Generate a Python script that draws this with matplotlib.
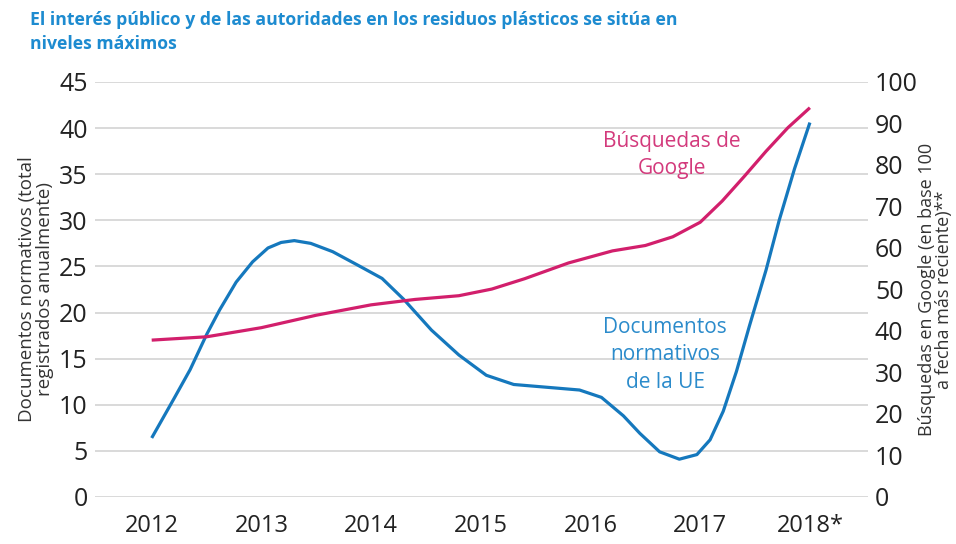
import matplotlib
matplotlib.use("Agg")
import matplotlib.pyplot as plt

plt.rcParams['font.family'] = ['Open Sans', 'DejaVu Sans']

# Documentos normativos de la UE (eje izquierdo)
doc_x = [2012.0, 2012.2, 2012.35, 2012.5, 2012.62, 2012.77, 2012.92, 2013.06, 2013.18, 2013.3,
         2013.45, 2013.65, 2013.9, 2014.1, 2014.3, 2014.55, 2014.8, 2015.05, 2015.3, 2015.6,
         2015.9, 2016.1, 2016.3, 2016.45, 2016.63, 2016.81, 2016.97, 2017.09, 2017.21, 2017.33,
         2017.45, 2017.6, 2017.72, 2017.86, 2018.0]
doc_y = [6.4, 10.6, 13.8, 17.6, 20.3, 23.3, 25.5, 27.0, 27.6, 27.8,
         27.5, 26.6, 25.0, 23.7, 21.4, 18.1, 15.4, 13.2, 12.2, 11.9,
         11.6, 10.8, 8.8, 6.9, 4.9, 4.1, 4.6, 6.2, 9.3, 13.6,
         18.6, 24.6, 30.0, 35.6, 40.6]

# Busquedas de Google (eje derecho, base 100)
goo_x = [2012.0, 2012.5, 2013.0, 2013.5, 2014.0, 2014.4, 2014.8, 2015.1, 2015.4, 2015.8,
         2016.2, 2016.5, 2016.75, 2017.0, 2017.2, 2017.4, 2017.6, 2017.8, 2018.0]
goo_y = [37.8, 38.6, 40.8, 43.8, 46.3, 47.6, 48.5, 50.1, 52.6, 56.4,
         59.3, 60.6, 62.7, 66.2, 71.3, 77.2, 83.3, 89.0, 93.8]

years = [2012, 2013, 2014, 2015, 2016, 2017, 2018]
year_labels = ['2012', '2013', '2014', '2015', '2016', '2017', '2018*']
left_ticks = list(range(0, 46, 5))
right_ticks = list(range(0, 101, 10))

blue = '#1578bd'
pink = '#d21f6c'

fig = plt.figure(figsize=(9.56, 5.44), dpi=100)
ax = fig.add_axes([0.099, 0.0864, 0.809, 0.7629])
ax2 = ax.twinx()

ax.set_xlim(2011.48, 2018.53)
ax.set_ylim(0, 45)
ax2.set_ylim(0, 100)

ax.set_yticks(left_ticks)
ax2.set_yticks(right_ticks)
ax.set_xticks(years)
ax.set_xticklabels(year_labels)

ax.grid(axis='y', color='#d3d3d3', linewidth=1.2)
ax.set_axisbelow(True)
for a in (ax, ax2):
    for s in a.spines.values():
        s.set_visible(False)

ax.tick_params(axis='y', length=0, pad=5, labelsize=18, labelcolor='#222222')
ax.tick_params(axis='x', length=0, pad=12, labelsize=17, labelcolor='#222222')
ax2.tick_params(axis='y', length=0, pad=5, labelsize=18, labelcolor='#222222')

ax.plot(doc_x, doc_y, color=blue, linewidth=2.3, solid_joinstyle='round', solid_capstyle='butt', zorder=3)
ax2.plot(goo_x, goo_y, color=pink, linewidth=2.3, solid_joinstyle='round', solid_capstyle='butt', zorder=3)

ax.set_ylabel('Documentos normativos (total\nregistrados anualmente)', fontsize=13.5,
              color='#333333', linespacing=0.95, labelpad=4)
ax2.set_ylabel('Búsquedas en Google (en base 100\na fecha más reciente)**', fontsize=13,
               color='#333333', linespacing=0.95, labelpad=0, rotation=90)

ax.text(2016.74, 37.1, 'Búsquedas de\nGoogle', color='#d33a7c', fontsize=15,
        ha='center', va='center', linespacing=1.4, zorder=4)
ax.text(2016.68, 15.4, 'Documentos\nnormativos\nde la UE', color='#2b8bcb', fontsize=15,
        ha='center', va='center', linespacing=1.4, zorder=4)

fig.text(0.031, 0.98, 'El interés público y de las autoridades en los residuos plásticos se sitúa en\nniveles máximos',
         color='#1d8bd0', fontsize=12.7, fontweight='bold', ha='left', va='top', linespacing=1.45)

fig.savefig('out.png', dpi=100)
